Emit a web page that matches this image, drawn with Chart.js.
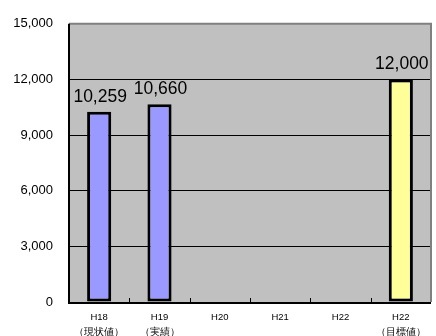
<!DOCTYPE html>
<html><head><meta charset="utf-8">
<script src="https://cdn.jsdelivr.net/npm/chart.js@4"></script>
<style>html,body{margin:0;padding:0;background:#fff}#w{width:436px;height:336px}</style>
</head><body><div id="w"><canvas id="c"></canvas></div>
<script>
const years = ['H18','H19','H20','H21','H22','H22'];
const notes = ['（現状値）','（実績）','','','','（目標値）'];
const values = [10259, 10660, null, null, null, 12000];
const barColors = ['#9999ff','#9999ff','#9999ff','#9999ff','#9999ff','#ffff99'];
const yTicks = [0, 3000, 6000, 9000, 12000, 15000];

const labels = years.map((y,i)=> notes[i] ? [y, notes[i]] : [y]);
const FONT = '"Liberation Sans", Arial, sans-serif';

const deco = {
  id:'deco',
  beforeDraw(chart){
    const {ctx, chartArea:a} = chart;
    ctx.save(); ctx.fillStyle='#c0c0c0';
    ctx.fillRect(a.left, a.top, a.right-a.left, a.bottom-a.top);
    ctx.restore();
  },
  afterDatasetsDraw(chart){
    const {ctx, chartArea:a} = chart;
    ctx.save();
    ctx.strokeStyle='#808080'; ctx.lineWidth=2;
    ctx.beginPath(); ctx.moveTo(a.left, a.top); ctx.lineTo(a.right, a.top); ctx.lineTo(a.right, a.bottom); ctx.stroke();
    ctx.strokeStyle='#000'; ctx.lineWidth=2;
    ctx.beginPath(); ctx.moveTo(a.left, a.top); ctx.lineTo(a.left, a.bottom+1); ctx.lineTo(a.right, a.bottom+1); ctx.stroke();
    const xs = chart.scales.x;
    ctx.lineWidth=1;
    for(let i=1;i<years.length;i++){
      const x = Math.round((xs.getPixelForValue(i-1)+xs.getPixelForValue(i))/2)+0.5;
      ctx.beginPath(); ctx.moveTo(x, a.bottom); ctx.lineTo(x, a.bottom-4); ctx.stroke();
    }
    const meta = chart.getDatasetMeta(0);
    ctx.fillStyle='#000'; ctx.font='17.5px '+FONT; ctx.textAlign='center'; ctx.textBaseline='alphabetic';
    meta.data.forEach((el,i)=>{
      const v = values[i];
      if(v==null) return;
      ctx.fillText(v.toLocaleString('en-US'), el.x+1, el.y-10);
    });
    ctx.restore();
  }
};

new Chart(document.getElementById('c'), {
  type:'bar',
  data:{labels, datasets:[{data:values, backgroundColor:barColors, borderColor:'#000', borderWidth:3, borderSkipped:false,
    categoryPercentage:1, barPercentage:0.4}]},
  options:{
    responsive:true, maintainAspectRatio:false, animation:false,
    devicePixelRatio:1,
    layout:{padding:{left:0,right:5,top:23,bottom:0}},
    plugins:{legend:{display:false}, tooltip:{enabled:false}},
    scales:{
      x:{
        grid:{display:false, drawTicks:false},
        border:{display:false},
        ticks:{font:{family:FONT,size:9.5,lineHeight:1.55}, color:'#000', padding:8, maxRotation:0, autoSkip:false},
        afterFit(s){ s.height = 34; }
      },
      y:{
        min:0, max:15000,
        afterBuildTicks(s){ s.ticks = yTicks.map(v=>({value:v})); },
        grid:{color:'#000', lineWidth:1, drawTicks:false},
        border:{display:false},
        ticks:{font:{family:FONT,size:13}, color:'#000', padding:16,
          callback:v=>Number(v).toLocaleString('en-US')},
        afterFit(s){ s.width = 69; }
      }
    }
  },
  plugins:[deco]
});
</script></body></html>
